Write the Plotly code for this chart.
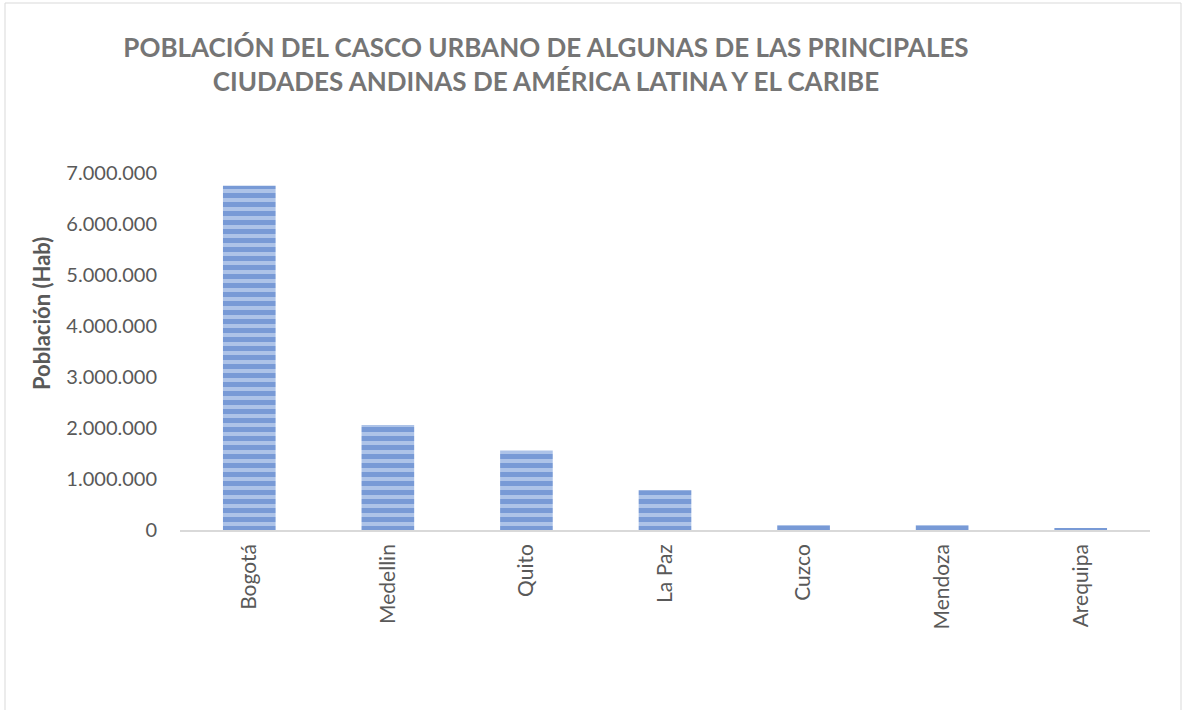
import plotly.graph_objects as go

# Población urbana (habitantes) por ciudad
ciudades = ["Bogotá", "Medellin", "Quito", "La Paz", "Cuzco", "Mendoza", "Arequipa"]
poblacion = [6750000, 2060000, 1560000, 780000, 100000, 100000, 40000]

titulo = ("POBLACIÓN DEL CASCO URBANO DE ALGUNAS DE LAS PRINCIPALES<br>"
          "CIUDADES ANDINAS DE AMÉRICA LATINA Y EL CARIBE")
titulo_y = "Población (Hab)"

W, H = 1182, 710
ML, MR, MT, MB = 180, 32, 173, 180
pw, ph = W - ML - MR, H - MT - MB

fig = go.Figure(
    go.Bar(
        x=ciudades,
        y=poblacion,
        width=0.38,
        marker=dict(
            color="#9fb8e3",
            line=dict(width=0),
            pattern=dict(shape="-", fgcolor="#4472c4", bgcolor="#adc3e8",
                         size=9, solidity=0.55),
        ),
        hovertemplate="%{x}: %{y:,.0f}<extra></extra>",
    )
)

# marco exterior del gráfico (coordenadas en fracción del área de trazado)
fig.add_shape(
    type="rect", xref="paper", yref="paper",
    x0=(5 - ML) / pw, x1=(W - 1 - ML) / pw,
    y0=-(MB + 30) / ph, y1=(H - 3 - MB) / ph,
    line=dict(color="#d9d9d9", width=1), layer="below",
)

# título del eje vertical
fig.add_annotation(
    text=f"<b>{titulo_y}</b>", textangle=-90, showarrow=False,
    xref="paper", yref="paper",
    x=(41 - ML) / pw, y=(ph - (314 - MT)) / ph,
    xanchor="center", yanchor="middle",
    font=dict(family="Lato", size=22, color="#595959"),
)

fig.update_layout(
    width=W, height=H,
    margin=dict(l=ML, r=MR, t=MT, b=MB),
    paper_bgcolor="white", plot_bgcolor="white",
    separators=",.",
    showlegend=False,
    title=dict(
        text=titulo, x=546 / W, xanchor="center", xref="container",
        y=1 - 57 / H, yanchor="middle", yref="container",
        font=dict(family="Lato", size=26, color="#757575", weight="bold"),
    ),
    font=dict(family="Lato", color="#595959"),
    xaxis=dict(
        showline=True, linecolor="#d9d9d9", linewidth=1.5,
        showgrid=False, ticks="", tickangle=-90,
        ticklabelstandoff=4,
        tickfont=dict(family="Lato", size=21, color="#595959"),
        range=[-0.5, len(ciudades) - 0.5],
    ),
    yaxis=dict(
        range=[0, 7000000], dtick=1000000, tickformat=",.0f",
        showgrid=False, zeroline=False, showline=False, ticks="",
        ticklabelstandoff=22,
        tickfont=dict(family="Lato", size=20, color="#595959"),
    ),
)

fig.write_html("out.html")
